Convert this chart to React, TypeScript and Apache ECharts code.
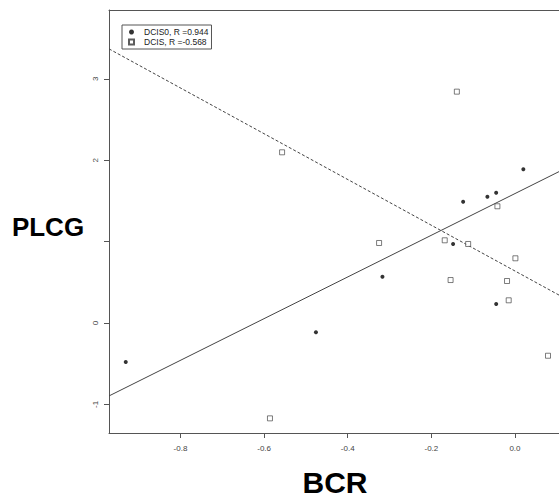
import React, { useEffect, useRef } from "react";
import * as echarts from "echarts";

// BCR (x) and PLCG (y) values
const dcis0X = [-0.931, -0.476, -0.317, -0.148, -0.124, -0.066, -0.045, -0.045, 0.02];
const dcis0Y = [-0.479, -0.114, 0.569, 0.971, 1.49, 1.552, 1.601, 0.233, 1.888];
const dcisX = [-0.586, -0.557, -0.325, -0.168, -0.154, -0.139, -0.112, -0.042, -0.019, -0.015, 0.001, 0.079];
const dcisY = [-1.171, 2.097, 0.983, 1.016, 0.528, 2.842, 0.971, 1.434, 0.516, 0.279, 0.795, -0.402];

// fitted lines: [intercept, slope]
const dcis0Fit = [1.59, 2.56];
const dcisFit = [0.639, -2.81];

const seriesNames = ["DCIS0, R =0.944", "DCIS, R =-0.568"];
const xTicks = [-0.8, -0.6, -0.4, -0.2, 0.0];
const yTicks = [-1, 0, 1, 2, 3];
const yLabels = [-1, 0, 2, 3];

const X_MIN = -0.971;
const X_MAX = 0.1053;
const Y_MIN = -1.351;
const Y_MAX = 3.845;

export default function App() {
  const ref = useRef<HTMLDivElement>(null);
  useEffect(() => {
    document.body.style.margin = "0";
    const chart = echarts.init(ref.current!, null, { renderer: "svg" });
    const lineData = (fit: number[]) => [
      [X_MIN, fit[0] + fit[1] * X_MIN],
      [X_MAX, fit[0] + fit[1] * X_MAX],
    ];
    const axisColor = "#555";
    const labelStyle = { fontFamily: "Liberation Sans", fontSize: 8, color: "#444" };
    chart.setOption({
      animation: false,
      backgroundColor: "#fff",
      grid: { left: 109, right: 0, top: 10, bottom: 66 },
      legend: {
        data: [
          { name: seriesNames[0], icon: "circle" },
          { name: seriesNames[1], icon: "rect" },
        ],
        orient: "vertical",
        left: 122,
        top: 25,
        itemWidth: 5,
        itemHeight: 5,
        itemGap: 0,
        padding: [2, 3, 2, 6],
        borderColor: "#555",
        borderWidth: 1,
        textStyle: {
          fontFamily: "Liberation Sans",
          fontSize: 8.5,
          lineHeight: 10,
          color: "#222",
          padding: [0, 0, 0, 5],
        },
      },
      xAxis: [
        {
          type: "value",
          min: X_MIN,
          max: X_MAX,
          splitLine: { show: false },
          axisLine: { show: true, onZero: false, lineStyle: { color: axisColor, width: 1 } },
          axisTick: { show: true, length: 5, customValues: xTicks, lineStyle: { color: axisColor } },
          axisLabel: {
            ...labelStyle,
            margin: 11,
            customValues: xTicks,
            formatter: (v: number) => v.toFixed(1),
          },
        },
        {
          type: "value",
          position: "top",
          min: X_MIN,
          max: X_MAX,
          splitLine: { show: false },
          axisLine: { show: true, onZero: false, lineStyle: { color: axisColor, width: 1 } },
          axisTick: { show: false },
          axisLabel: { show: false },
        },
      ],
      yAxis: {
        type: "value",
        min: Y_MIN,
        max: Y_MAX,
        splitLine: { show: false },
        axisLine: { show: true, onZero: false, lineStyle: { color: axisColor, width: 1 } },
        axisTick: { show: true, length: 5, customValues: yTicks, lineStyle: { color: axisColor } },
        axisLabel: {
          ...labelStyle,
          rotate: 90,
          margin: 10,
          customValues: yLabels,
          formatter: (v: number) => String(v),
        },
      },
      series: [
        {
          name: seriesNames[0],
          type: "scatter",
          symbol: "circle",
          symbolSize: 4,
          itemStyle: { color: "#000" },
          data: dcis0X.map((x, i) => [x, dcis0Y[i]]),
        },
        {
          name: seriesNames[1],
          type: "scatter",
          symbol: "rect",
          symbolSize: 5,
          itemStyle: { color: "#fff", borderColor: "#333", borderWidth: 0.8 },
          data: dcisX.map((x, i) => [x, dcisY[i]]),
        },
        {
          name: "fit0",
          type: "line",
          showSymbol: false,
          symbol: "none",
          lineStyle: { color: "#444", width: 1 },
          data: lineData(dcis0Fit),
          z: 1,
        },
        {
          name: "fit1",
          type: "line",
          showSymbol: false,
          symbol: "none",
          lineStyle: { color: "#444", width: 1, type: [3, 2] },
          data: lineData(dcisFit),
          z: 1,
        },
      ],
      graphic: [
        {
          type: "text",
          x: 48,
          y: 227,
          style: {
            text: "PLCG",
            font: "bold 26px Liberation Sans",
            fill: "#000",
            textAlign: "center",
            textVerticalAlign: "middle",
          },
        },
        {
          type: "text",
          x: 335,
          y: 482,
          style: {
            text: "BCR",
            font: "bold 30px Liberation Sans",
            fill: "#000",
            textAlign: "center",
            textVerticalAlign: "middle",
          },
        },
      ],
    });
    return () => chart.dispose();
  }, []);
  return <div ref={ref} style={{ width: 559, height: 499 }} />;
}
